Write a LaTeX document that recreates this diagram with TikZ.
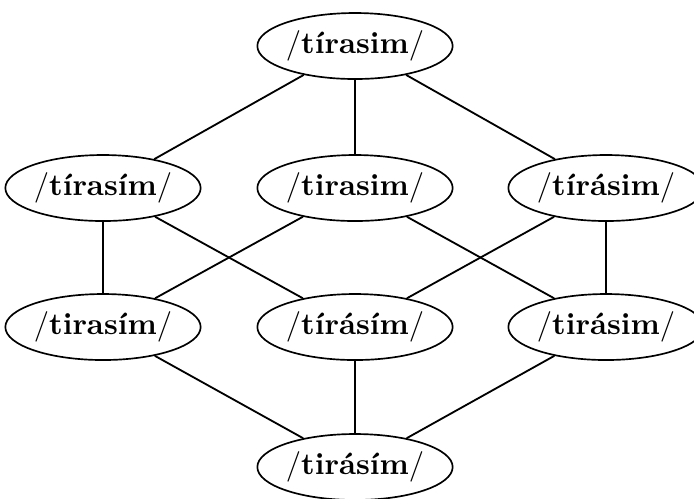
\documentclass[tikz,border=0pt]{standalone}
\usepackage{fontspec}
\usetikzlibrary{shapes.geometric}
\newcommand{\phon}[1]{$/$\textbf{#1}$/$}
\begin{document}
\begin{tikzpicture}[x=0.328pt,y=-0.328pt,
  form/.style={ellipse,draw,line width=0.55pt,inner sep=0pt,
    minimum width=180*0.328pt,minimum height=66*0.328pt},
  link/.style={line width=0.6pt}]
\useasboundingbox (0,0) rectangle (694,498);
% top
\node[form] (t)   at (355,46)  {\phon{tírasim}};
% second row
\node[form] (a1)  at (103,188) {\phon{tírasím}};
\node[form] (a2)  at (355,188) {\phon{tirasim}};
\node[form] (a3)  at (606,188) {\phon{tírásim}};
% third row
\node[form] (b1)  at (103,327) {\phon{tirasím}};
\node[form] (b2)  at (355,327) {\phon{tírásím}};
\node[form] (b3)  at (606,327) {\phon{tirásim}};
% bottom
\node[form] (bot) at (355,467) {\phon{tirásím}};
% connections
\draw[link] (t) -- (a1);
\draw[link] (t) -- (a2);
\draw[link] (t) -- (a3);
\draw[link] (a1) -- (b1);
\draw[link] (a1) -- (b2);
\draw[link] (a2) -- (b1);
\draw[link] (a2) -- (b3);
\draw[link] (a3) -- (b2);
\draw[link] (a3) -- (b3);
\draw[link] (b1) -- (bot);
\draw[link] (b2) -- (bot);
\draw[link] (b3) -- (bot);
\end{tikzpicture}
\end{document}
